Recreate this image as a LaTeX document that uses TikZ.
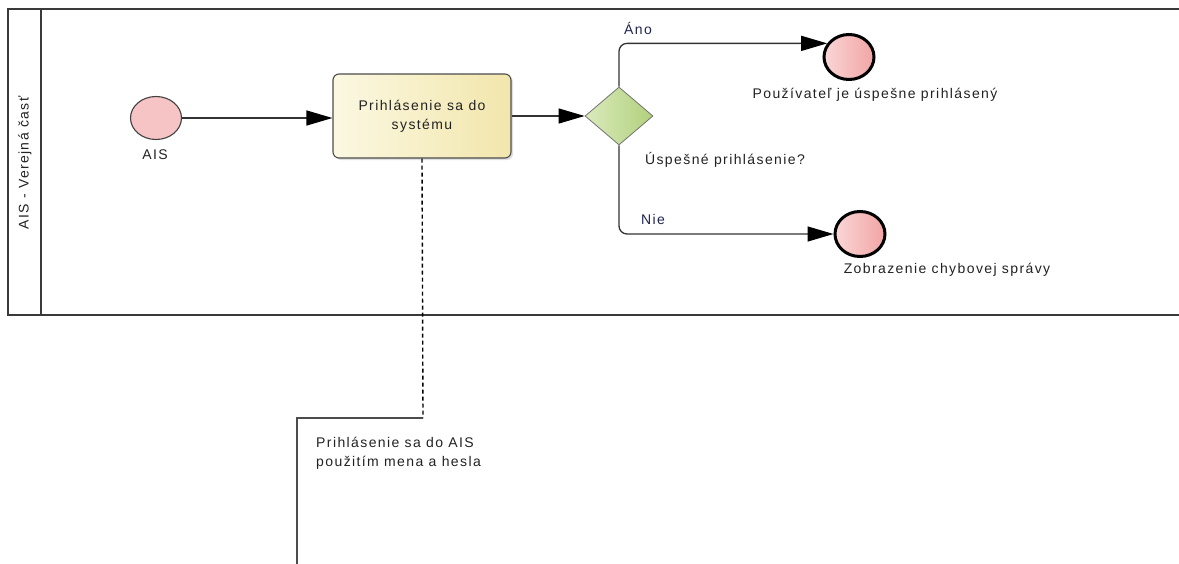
\documentclass[tikz,border=0pt]{standalone}
\usepackage{fontspec}
\setmainfont{Liberation Sans}[LetterSpace=10]
\usetikzlibrary{arrows.meta,shapes.geometric,shadows,calc}

\definecolor{poolline}{HTML}{3A3A3A}
\definecolor{evtfill}{HTML}{F6C4C4}
\definecolor{endleft}{HTML}{FAD6D6}
\definecolor{endright}{HTML}{F2A4A4}
\definecolor{taskleft}{HTML}{FBF8E2}
\definecolor{taskright}{HTML}{F2E6AC}
\definecolor{gwleft}{HTML}{DAEABD}
\definecolor{gwright}{HTML}{B2D07C}
\definecolor{flowlabel}{HTML}{1E2450}
\definecolor{txt}{HTML}{222222}

\tikzset{
  every node/.style={font=\fontsize{14}{19}\selectfont, text=txt},
  pool/.style={draw=poolline, line width=1.8pt},
  startevt/.style={ellipse, draw=black!75, line width=1.1pt, fill=evtfill,
    minimum width=51pt, minimum height=43pt, inner sep=0pt},
  endevt/.style={ellipse, draw=black, line width=3pt,
    left color=endleft, right color=endright,
    minimum width=50pt, minimum height=45pt, inner sep=0pt},
  taskbox/.style={rectangle, rounded corners=6pt, draw=black!70, line width=1.1pt,
    left color=taskleft, right color=taskright, align=center,
    minimum width=178pt, minimum height=84pt,
    drop shadow={shadow xshift=2pt, shadow yshift=-2pt, opacity=0.25}},
  gateway/.style={diamond, draw=black!55, line width=0.8pt,
    left color=gwleft, right color=gwright,
    minimum width=68pt, minimum height=58pt, inner sep=0pt, aspect=1.17},
  flow/.style={draw=black!80, line width=1.3pt,
    -{Triangle[length=26pt, width=15pt, color=black]}},
  assoc/.style={draw=black, line width=1.4pt, dash pattern=on 4pt off 3pt},
  annot/.style={draw=black!70, line width=1.6pt},
  flowtext/.style={text=flowlabel},
}

\begin{document}
\begin{tikzpicture}[x=1pt, y=-1pt]
\useasboundingbox (0,0) rectangle (1179,563);

% pool with its lane header
\draw[pool] (8,9) rectangle (1192,315);
\draw[pool] (41,9) -- (41,315);
\node[rotate=90] (lanename) at (25,163) {AIS - Verejná časť};

% events, task and gateway
\node[startevt] (start) at (156,118) {};
\node (startlbl) at (155,155) {AIS};

\node[taskbox] (task) at (422,116) {Prihlásenie sa do\\systému};

\node[gateway] (gw) at (619,116) {};
\node (gwlbl) at (725,160) {Úspešné prihlásenie?};

\node[endevt] (okend) at (849,57) {};
\node (oklbl) at (875,95) {Používateľ je úspešne prihlásený};

\node[endevt] (errend) at (860,234) {};
\node (errlbl) at (947,270) {Zobrazenie chybovej správy};

% sequence flows
\draw[flow] (start.east) -- (start.east -| task.west);
\draw[flow] (task.east |- gw.west) -- (gw.west);
\draw[flow, rounded corners=8pt] (gw.north) |- (okend.148);
\node[flowtext] (yes) at (638,28) {Áno};
\draw[flow, rounded corners=8pt] (gw.south) |- (errend.west);
\node[flowtext] (no) at (653,219) {Nie};

% text annotation with its association
\coordinate (annotcorner) at (423,418);
\coordinate (annotbend) at (297,418);
\coordinate (annotfoot) at (297,575);
\draw[assoc] (task.south) -- (annotcorner);
\draw[annot] (annotcorner) -- (annotbend) -- (annotfoot);
\node[anchor=north west, align=left, inner sep=0pt] (annottext) at (316,437)
  {Prihlásenie sa do AIS\\použitím mena a hesla};
\end{tikzpicture}
\end{document}
